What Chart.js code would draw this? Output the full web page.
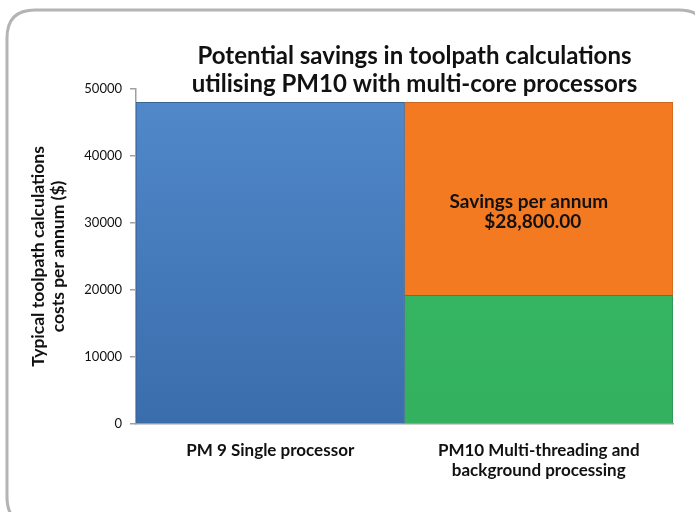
<!DOCTYPE html>
<html lang="en">
<head>
  <title>Potential savings in toolpath calculations</title>
  <meta charset="utf-8">
  <script src="https://cdn.jsdelivr.net/npm/chart.js@4.4.1/dist/chart.umd.min.js"></script>
  <style>
  body { margin: 0; background: #fff; }
  .chart-container { position: relative; width: 695px; height: 512px; }
  </style>
</head>
<body>

<div class="chart-container">
  <canvas id="canvas"></canvas>
</div>

<script>
var categories = [['PM 9 Single processor'], ['PM10 Multi-threading and', 'background processing']];
var singleCost = [48000, null];
var multiCost = [null, 19200];
var savings = [null, 28800];
var yTicks = [0, 10000, 20000, 30000, 40000, 50000];
var titleLines = ['Potential savings in toolpath calculations', 'utilising PM10 with multi-core processors'];
var yTitle = ['Typical toolpath calculations', 'costs per annum ($)'];
var noteLines = ['Savings per annum', '$28,800.00'];

var FONT = "Lato, 'Open Sans', sans-serif";

function grad(top, bottom) {
  return function(ctx) {
    var area = ctx.chart.chartArea;
    if (!area) return top;
    var g = ctx.chart.ctx.createLinearGradient(0, area.top, 0, area.bottom);
    g.addColorStop(0, top);
    g.addColorStop(1, bottom);
    return g;
  };
}

// rounded frame + title + note inside the savings bar
var decor = {
  id: 'decor',
  beforeDraw: function(chart) {
    var c = chart.ctx;
    c.save();
    c.strokeStyle = '#b4b4b4';
    c.lineWidth = 3;
    var x = 7, y = 10, w = 700, h = 515, r = 28;
    c.beginPath();
    c.moveTo(x + r, y);
    c.lineTo(x + w - r, y);
    c.quadraticCurveTo(x + w, y, x + w, y + r);
    c.lineTo(x + w, y + h - r);
    c.quadraticCurveTo(x + w, y + h, x + w - r, y + h);
    c.lineTo(x + r, y + h);
    c.quadraticCurveTo(x, y + h, x, y + h - r);
    c.lineTo(x, y + r);
    c.quadraticCurveTo(x, y, x + r, y);
    c.stroke();
    c.restore();
  },
  afterDraw: function(chart) {
    var c = chart.ctx;
    var area = chart.chartArea;
    c.save();
    c.fillStyle = '#111';
    c.textAlign = 'center';
    c.textBaseline = 'middle';
    c.font = "bold 24px " + FONT;
    var cx = (area.left + area.right) / 2 + 10;
    c.fillText(titleLines[0], cx, 56);
    c.fillText(titleLines[1], cx, 84);

    var bar = chart.getDatasetMeta(2).data[1];
    var yScale = chart.scales.y;
    c.font = "bold 19px " + FONT;
    c.fillText(noteLines[0], bar.x - 10, yScale.getPixelForValue(33100));
    c.fillText(noteLines[1], bar.x - 6, yScale.getPixelForValue(30100));
    c.restore();
  }
};

window.onload = function() {
  var ctx = document.getElementById('canvas').getContext('2d');
  window.myBar = new Chart(ctx, {
    type: 'bar',
    data: {
      labels: categories,
      datasets: [{
        label: 'PM 9',
        data: singleCost,
        backgroundColor: grad('#5189cb', '#3a6dab'),
        borderColor: '#3b6597',
        borderWidth: 1
      }, {
        label: 'PM10',
        data: multiCost,
        backgroundColor: grad('#38b865', '#33b15f'),
        borderColor: '#2f8c52',
        borderWidth: 1
      }, {
        label: 'Savings',
        data: savings,
        backgroundColor: '#f47a22',
        borderColor: '#c8651e',
        borderWidth: 1
      }]
    },
    options: {
      responsive: true,
      maintainAspectRatio: false,
      animation: false,
      layout: { padding: { top: 89, right: 22, left: 0, bottom: 0 } },
      datasets: { bar: { barPercentage: 1, categoryPercentage: 1, grouped: false } },
      plugins: {
        legend: { display: false },
        title: { display: false },
        tooltip: { enabled: false }
      },
      scales: {
        x: {
          stacked: true,
          grid: { display: false },
          border: { display: true, color: '#a0a0a0', width: 1.5 },
          ticks: {
            color: '#111',
            font: { family: FONT, size: 17, weight: 'bold', lineHeight: 1.2 },
            padding: 8,
            maxRotation: 0
          },
          afterFit: function(scale) { scale.height = 88; }
        },
        y: {
          stacked: true,
          min: 0,
          max: 50000,
          grid: { drawOnChartArea: false, drawTicks: true, tickLength: 6, color: '#a0a0a0', lineWidth: 1.5 },
          border: { display: true, color: '#a0a0a0', width: 1.5 },
          afterBuildTicks: function(scale) {
            scale.ticks = yTicks.map(function(v) { return { value: v }; });
          },
          ticks: {
            color: '#111',
            font: { family: FONT, size: 13 },
            padding: 8,
            callback: function(v) { return String(v); }
          },
          title: {
            display: true,
            text: yTitle,
            color: '#111',
            font: { family: FONT, size: 17.5, weight: 'bold', lineHeight: 1.15 },
            padding: { top: 28, bottom: 0 }
          },
          afterFit: function(scale) { scale.width = 136; }
        }
      }
    },
    plugins: [decor]
  });
};
</script>

</body>
</html>
